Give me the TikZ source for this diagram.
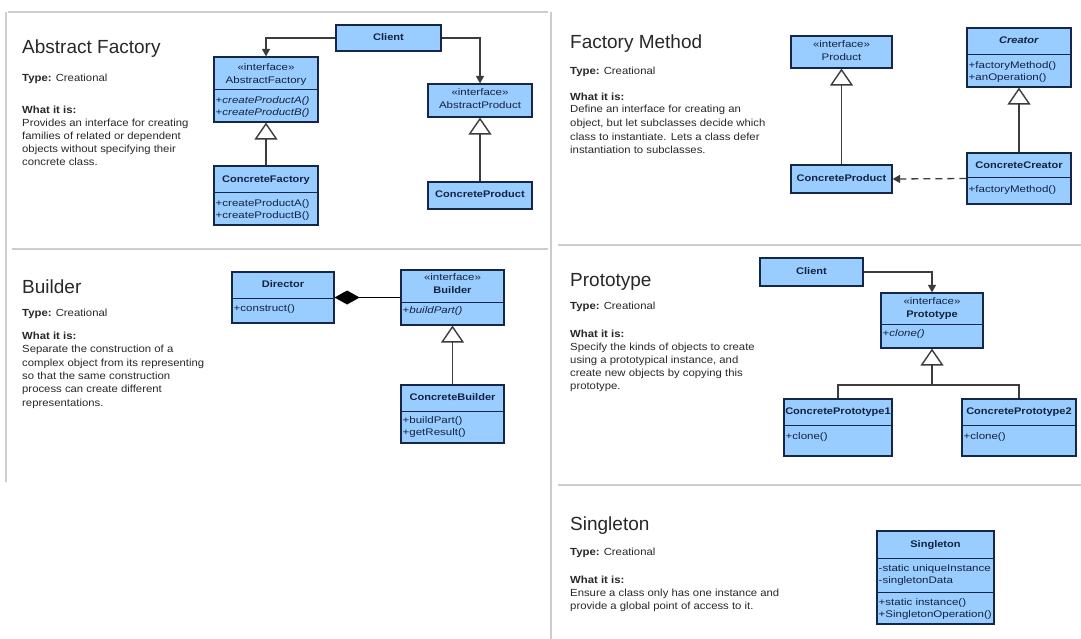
\documentclass[tikz,border=0pt]{standalone}
\usepackage{fontspec}
\setmainfont{Liberation Sans}
\newfontfamily\bxf[FakeStretch=1.2]{Liberation Sans}
\newfontfamily\bxb[FakeStretch=1.15]{Liberation Sans}
\newfontfamily\bdf[FakeStretch=1.1]{Liberation Sans}
\usetikzlibrary{arrows.meta,fit}
\definecolor{boxfill}{RGB}{153,204,255}
\definecolor{boxdraw}{RGB}{22,38,72}
\definecolor{boxtext}{RGB}{20,34,66}
\definecolor{conn}{RGB}{60,60,60}
\definecolor{panel}{RGB}{205,205,205}
\definecolor{ttext}{RGB}{40,40,40}
\tikzset{
 umlbox/.style={draw=boxdraw, fill=boxfill, line width=1.2pt, inner sep=0pt},
 divider/.style={draw=boxdraw, line width=1pt},
 iface/.style={inner sep=0pt, text=boxtext, font=\bxf\fontsize{9.6}{11}\selectfont, text height=6.8pt, text depth=2pt},
 cname/.style={iface, font=\bxb\bfseries\fontsize{9.6}{11}\selectfont},
 oper/.style={iface, anchor=west},
 ptitle/.style={inner sep=0pt, anchor=base west, text=ttext, font=\fontsize{19}{22}\selectfont},
 body/.style={inner sep=0pt, anchor=base west, text=ttext, font=\bdf\fontsize{10.3}{13}\selectfont},
 panelline/.style={draw=panel, line width=2pt},
 assoc/.style={draw=conn, line width=1.4pt, -{Triangle[width=8pt,length=7.5pt]}},
 gen/.style={draw=conn, line width=1.4pt, -{Triangle[width=23pt,length=17pt,fill=white]}},
 genline/.style={draw=conn, line width=1.4pt},
 comp/.style={draw=black, line width=1.4pt, -{Diamond[width=14pt,length=25pt]}},
 dep/.style={draw=conn, line width=1.3pt, dash pattern=on 7pt off 5pt, -{Triangle[width=8pt,length=7.5pt]}},
}
\begin{document}
\begin{tikzpicture}[x=1pt,y=-1pt]
\useasboundingbox[fill=white] (0,0) rectangle (1081,639);
% panel lines
\draw[panelline] (6,12) -- (6,482);
\draw[panelline] (8,12) -- (548,12);
\draw[panelline] (12,249) -- (548,249);
\draw[panelline] (551,12) -- (551,639);
\draw[panelline] (558,245) -- (1081,245);
\draw[panelline] (558,485) -- (1081,485);

% ---------------- Abstract Factory ----------------
\node[ptitle] (t1) at (22,54) {Abstract Factory};
\node[body] (t1a) at (22,81.6) {\textbf{Type:} Creational};
\node[body] (t1b) at (22,113.6) {\textbf{What it is:}};
\node[body] (t1c) at (22,126.6) {Provides an interface for creating};
\node[body] (t1d) at (22,139.6) {families of related or dependent};
\node[body] (t1e) at (22,152.6) {objects without specifying their};
\node[body] (t1f) at (22,165.6) {concrete class.};

\node[umlbox, fit={(336,25) (441,51)}] (afc) {};
\node[cname] (afcn) at (afc.center) {Client};

\node[umlbox, fit={(214,57) (318,122)}] (af) {};
\draw[divider] (214,90) -- (318,90);
\node[iface] (afi) at (266,68) {«interface»};
\node[iface] (afn) at (266,81) {AbstractFactory};
\node[oper] (afo1) at (215.5,101) {+\textit{createProductA()}};
\node[oper] (afo2) at (215.5,113) {+\textit{createProductB()}};

\node[umlbox, fit={(214,166) (318,225)}] (cf) {};
\draw[divider] (214,193) -- (318,193);
\node[cname] (cfn) at (266,180) {ConcreteFactory};
\node[oper] (cfo1) at (215.5,204) {+createProductA()};
\node[oper] (cfo2) at (215.5,216) {+createProductB()};

\node[umlbox, fit={(428,84) (532,117)}] (ap) {};
\node[iface] (api) at (480,93) {«interface»};
\node[iface] (apn) at (480,106) {AbstractProduct};

\node[umlbox, fit={(428,182) (532,209)}] (cp) {};
\node[cname] (cpn) at (cp.center) {ConcreteProduct};

\draw[assoc] (afc.west) -| (af.north);
\draw[assoc] (afc.east) -| (ap.north);
\draw[gen] (cf.north) -- (af.south);
\draw[gen] (cp.north) -- (ap.south);

% ---------------- Factory Method ----------------
\node[ptitle] (t2) at (570,49) {Factory Method};
\node[body] (t2a) at (570,74.6) {\textbf{Type:} Creational};
\node[body] (t2b) at (570,100.6) {\textbf{What it is:}};
\node[body] (t2c) at (570,113) {Define an interface for creating an};
\node[body] (t2d) at (570,126.6) {object, but let subclasses decide which};
\node[body] (t2e) at (570,140.2) {class to instantiate. Lets a class defer};
\node[body] (t2f) at (570,153.8) {instantiation to subclasses.};

\node[umlbox, fit={(791,36) (892,68)}] (fp) {};
\node[iface] (fpi) at (841.5,45) {«interface»};
\node[iface] (fpn) at (841.5,58) {Product};

\node[umlbox, fit={(791,165) (892,193)}] (fcp) {};
\node[cname] (fcpn) at (fcp.center) {ConcreteProduct};

\node[umlbox, fit={(967,28) (1071,87)}] (fcr) {};
\draw[divider] (967,55) -- (1071,55);
\node[cname] (fcrn) at (1019,41) {\textit{Creator}};
\node[oper] (fcro1) at (968.5,66) {+factoryMethod()};
\node[oper] (fcro2) at (968.5,78) {+anOperation()};

\node[umlbox, fit={(967,153) (1071,204)}] (fcc) {};
\draw[divider] (967,178) -- (1071,178);
\node[cname] (fccn) at (1019,166) {ConcreteCreator};
\node[oper] (fcco1) at (968.5,190) {+factoryMethod()};

\draw[gen] (fcp.north) -- (fp.south);
\draw[gen] (fcc.north) -- (fcr.south);
\draw[dep] (fcc.west) -- (fcp.east);

% ---------------- Builder ----------------
\node[ptitle] (t3) at (22,293) {Builder};
\node[body] (t3a) at (22,316.6) {\textbf{Type:} Creational};
\node[body] (t3b) at (22,339.6) {\textbf{What it is:}};
\node[body] (t3c) at (22,352.6) {Separate the construction of a};
\node[body] (t3d) at (22,366) {complex object from its representing};
\node[body] (t3e) at (22,379.4) {so that the same construction};
\node[body] (t3f) at (22,392.8) {process can create different};
\node[body] (t3g) at (22,406.2) {representations.};

\node[umlbox, fit={(232,272) (334,323)}] (bd) {};
\draw[divider] (232,298) -- (334,298);
\node[cname] (bdn) at (283,285) {Director};
\node[oper] (bdo) at (233.5,309) {+construct()};

\node[umlbox, fit={(401,270) (504,325)}] (bb) {};
\draw[divider] (401,302) -- (504,302);
\node[iface] (bbi) at (452.5,278) {«interface»};
\node[cname] (bbn) at (452.5,291) {Builder};
\node[oper] (bbo) at (402.5,311) {+\textit{buildPart()}};

\node[umlbox, fit={(401,385) (504,443)}] (bc) {};
\draw[divider] (401,411) -- (504,411);
\node[cname] (bcn) at (452.5,398) {ConcreteBuilder};
\node[oper] (bco1) at (402.5,421) {+buildPart()};
\node[oper] (bco2) at (402.5,433) {+getResult()};

\draw[comp] (bb.west |- bd.east) -- (bd.east);
\draw[gen] (bc.north) -- (bb.south);

% ---------------- Prototype ----------------
\node[ptitle] (t4) at (570,286) {Prototype};
\node[body] (t4a) at (570,309.6) {\textbf{Type:} Creational};
\node[body] (t4b) at (570,337.6) {\textbf{What it is:}};
\node[body] (t4c) at (570,350.6) {Specify the kinds of objects to create};
\node[body] (t4d) at (570,363.6) {using a prototypical instance, and};
\node[body] (t4e) at (570,376.6) {create new objects by copying this};
\node[body] (t4f) at (570,389.6) {prototype.};

\node[umlbox, fit={(760,258) (863,286)}] (pc) {};
\node[cname] (pcn) at (pc.center) {Client};

\node[umlbox, fit={(881,293) (983,348)}] (pp) {};
\draw[divider] (881,324) -- (983,324);
\node[iface] (ppi) at (932,302) {«interface»};
\node[cname] (ppn) at (932,315) {Prototype};
\node[oper] (ppo) at (882.5,334) {+\textit{clone()}};

\node[umlbox, fit={(784,399) (892,456)}] (pc1) {};
\draw[divider] (784,425) -- (892,425);
\node[cname] (pc1n) at (838,412) {ConcretePrototype1};
\node[oper] (pc1o) at (785.5,437) {+clone()};

\node[umlbox, fit={(962,399) (1076,456)}] (pc2) {};
\draw[divider] (962,425) -- (1076,425);
\node[cname] (pc2n) at (1019,412) {ConcretePrototype2};
\node[oper] (pc2o) at (963.5,437) {+clone()};

\coordinate (pj) at (932,385);
\draw[assoc] (pc.east) -| (pp.north);
\draw[genline] (pc1.north) |- (pj) -| (pc2.north);
\draw[gen] (pj) -- (pp.south);

% ---------------- Singleton ----------------
\node[ptitle] (t5) at (570,530) {Singleton};
\node[body] (t5a) at (570,555.6) {\textbf{Type:} Creational};
\node[body] (t5b) at (570,583.6) {\textbf{What it is:}};
\node[body] (t5c) at (570,596) {Ensure a class only has one instance and};
\node[body] (t5d) at (570,609.4) {provide a global point of access to it.};

\node[umlbox, fit={(877,531) (994,624)}] (sg) {};
\draw[divider] (877,558) -- (994,558);
\draw[divider] (877,592) -- (994,592);
\node[cname] (sgn) at (935.5,545) {Singleton};
\node[oper] (sga1) at (878.5,569) {-static uniqueInstance};
\node[oper] (sga2) at (878.5,581) {-singletonData};
\node[oper] (sgo1) at (878.5,603) {+static instance()};
\node[oper] (sgo2) at (878.5,615) {+SingletonOperation()};
\end{tikzpicture}
\end{document}
